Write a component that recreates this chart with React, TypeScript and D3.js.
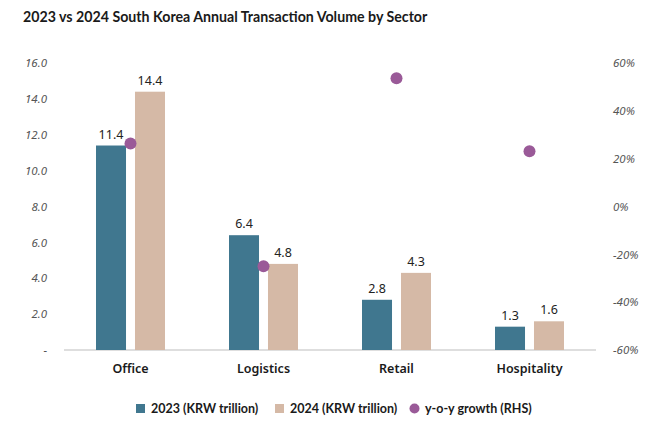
import React, { useEffect, useRef } from 'react';
import * as d3 from 'd3';

const sectors = ['Office', 'Logistics', 'Retail', 'Hospitality'];
const volume2023 = [11.4, 6.4, 2.8, 1.3];
const volume2024 = [14.4, 4.8, 4.3, 1.6];
const yoyGrowth = [26.3, -25.0, 53.6, 23.1];
const leftTicks = [0, 2, 4, 6, 8, 10, 12, 14, 16];
const rightTicks = [-60, -40, -20, 0, 20, 40, 60];

const WIDTH = 658;
const HEIGHT = 439;
const C2023 = '#40778f';
const C2024 = '#d5b9a6';
const CDOT = '#9a5a98';
const FONT = '"Noto Sans", "Open Sans", sans-serif';
const FONT_NARROW = 'Lato, "Noto Sans", sans-serif';

const App = () => {
    const svgRef = useRef<SVGSVGElement>(null);

    useEffect(() => {
        const svg = d3.select(svgRef.current);
        svg.selectAll('*').remove();

        const margin = { top: 63, right: 62, bottom: 89, left: 64 };
        const innerWidth = WIDTH - margin.left - margin.right;
        const innerHeight = HEIGHT - margin.top - margin.bottom;

        svg.append('rect').attr('width', WIDTH).attr('height', HEIGHT).attr('fill', '#fff');

        // Title
        svg.append('text')
            .attr('x', 23)
            .attr('y', 22)
            .attr('font-family', FONT_NARROW)
            .attr('font-size', 14.2)
            .attr('font-weight', 700)
            .attr('fill', '#1a1a1a')
            .text('2023 vs 2024 South Korea Annual Transaction Volume by Sector');

        const g = svg.append('g').attr('transform', `translate(${margin.left},${margin.top})`);

        const x0 = d3.scaleBand().domain(sectors).range([0, innerWidth]);
        const x1 = d3.scaleBand().domain(['2023', '2024']).range([0, 69]).paddingInner(0.23);
        const y = d3.scaleLinear().domain([0, 16]).range([innerHeight, 0]);
        const yR = d3.scaleLinear().domain([-60, 60]).range([innerHeight, 0]);

        // Left axis
        const left = g.append('g')
            .call(d3.axisLeft(y).tickValues(leftTicks).tickSize(0).tickPadding(17)
                .tickFormat(d => (d === 0 ? '-' : d3.format('.1f')(d as number))));
        left.select('.domain').remove();

        // Right axis
        const right = g.append('g')
            .attr('transform', `translate(${innerWidth},0)`)
            .call(d3.axisRight(yR).tickValues(rightTicks).tickSize(0).tickPadding(17)
                .tickFormat(d => `${d}%`));
        right.select('.domain').remove();

        g.selectAll('.tick text')
            .attr('font-family', FONT)
            .attr('font-size', 11.5)
            .attr('font-style', 'italic')
            .attr('fill', '#555');

        // Baseline
        g.append('line')
            .attr('x1', 0).attr('x2', innerWidth)
            .attr('y1', innerHeight).attr('y2', innerHeight)
            .attr('stroke', '#bdbdbd').attr('stroke-width', 1.2);

        // Bars
        const groups = g.selectAll('.grp')
            .data(sectors)
            .enter().append('g')
            .attr('transform', d => `translate(${x0(d)! + x0.bandwidth() / 2 - 34.5},0)`);

        const series = [
            { key: '2023', values: volume2023, color: C2023 },
            { key: '2024', values: volume2024, color: C2024 },
        ];

        series.forEach(s => {
            groups.append('rect')
                .attr('x', x1(s.key)!)
                .attr('width', x1.bandwidth())
                .attr('y', (_, i) => y(s.values[i]))
                .attr('height', (_, i) => innerHeight - y(s.values[i]))
                .attr('fill', s.color);

            groups.append('text')
                .attr('x', x1(s.key)! + x1.bandwidth() / 2)
                .attr('y', (_, i) => y(s.values[i]) - 7)
                .attr('text-anchor', 'middle')
                .attr('font-family', FONT)
                .attr('font-size', 12.5)
                .attr('fill', '#222')
                .text((_, i) => s.values[i].toFixed(1));
        });

        // Growth dots (RHS)
        g.selectAll('.dot')
            .data(sectors)
            .enter().append('circle')
            .attr('cx', d => x0(d)! + x0.bandwidth() / 2)
            .attr('cy', (_, i) => yR(yoyGrowth[i]))
            .attr('r', 6)
            .attr('fill', CDOT);

        // Category labels
        g.selectAll('.cat')
            .data(sectors)
            .enter().append('text')
            .attr('x', d => x0(d)! + x0.bandwidth() / 2)
            .attr('y', innerHeight + 23)
            .attr('text-anchor', 'middle')
            .attr('font-family', FONT)
            .attr('font-size', 12.5)
            .attr('font-weight', 600)
            .attr('fill', '#1a1a1a')
            .text(d => d);

        // Legend
        const legend = svg.append('g').attr('transform', 'translate(0,409)');
        const items = [
            { label: '2023 (KRW trillion)', color: C2023, x: 136, shape: 'rect' },
            { label: '2024 (KRW trillion)', color: C2024, x: 275, shape: 'rect' },
            { label: 'y-o-y growth (RHS)', color: CDOT, x: 410, shape: 'circle' },
        ];
        items.forEach(it => {
            if (it.shape === 'rect') {
                legend.append('rect')
                    .attr('x', it.x).attr('y', -5)
                    .attr('width', 9).attr('height', 9)
                    .attr('fill', it.color);
            } else {
                legend.append('circle')
                    .attr('cx', it.x + 4.5).attr('cy', -0.5)
                    .attr('r', 5)
                    .attr('fill', it.color);
            }
            legend.append('text')
                .attr('x', it.x + 15)
                .attr('y', 4)
                .attr('font-family', FONT_NARROW)
                .attr('font-size', 12.5)
                .attr('font-weight', 700)
                .attr('fill', '#1a1a1a')
                .text(it.label);
        });
    }, []);

    return (
        <svg
            ref={svgRef}
            width={WIDTH}
            height={HEIGHT}
            style={{ position: 'absolute', left: 0, top: 0 }}
        />
    );
};

export default App;
